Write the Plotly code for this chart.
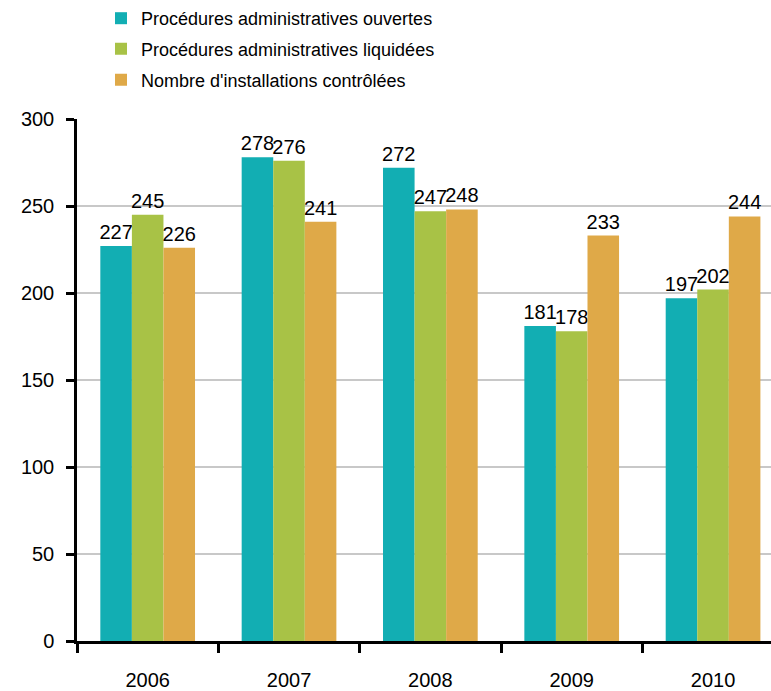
import plotly.graph_objects as go

years = ["2006", "2007", "2008", "2009", "2010"]
ouvertes = [227, 278, 272, 181, 197]
liquidees = [245, 276, 247, 178, 202]
controlees = [226, 241, 248, 233, 244]

names = ["Procédures administratives ouvertes",
         "Procédures administratives liquidées",
         "Nombre d'installations contrôlées"]
colors = ["#12AEB3", "#A8C246", "#DFA948"]
series = [ouvertes, liquidees, controlees]

FONT = "Liberation Sans, Arial, sans-serif"
fig = go.Figure()
for i, (n, c, v) in enumerate(zip(names, colors, series)):
    fig.add_trace(go.Bar(
        x=years, y=v, name=n, marker=dict(color=c, line=dict(width=0)),
        text=[str(t) for t in v], textposition="outside", constraintext="none",
        textfont=dict(size=20, color="black", family=FONT),
        cliponaxis=False, showlegend=True,
        legend="legend" if i == 0 else f"legend{i+1}",
    ))

leg = dict(font=dict(size=18, color="black", family=FONT), bgcolor="rgba(0,0,0,0)",
           xanchor="left", yanchor="middle", xref="paper", yref="paper",
           itemwidth=30, traceorder="normal", visible=True)
LX = (101 - 77) / 694
fig.update_layout(
    width=771, height=691,
    margin=dict(l=77, r=0, t=119, b=50),
    paper_bgcolor="white", plot_bgcolor="white",
    barmode="group", bargap=0.33, bargroupgap=0,
    font=dict(family=FONT, size=20, color="black"),
    showlegend=True,
    legend=dict(leg, x=LX, y=1 + (119 - 18) / 522),
    legend2=dict(leg, x=LX, y=1 + (119 - 49) / 522),
    legend3=dict(leg, x=LX, y=1 + (119 - 80) / 522),
)
fig.update_xaxes(
    type="category", range=[-0.5, 4.41],
    showline=True, linecolor="black", linewidth=2.5,
    ticks="outside", tickson="boundaries", ticklen=9, tickwidth=2.5, tickcolor="black",
    tickfont=dict(size=20, family=FONT, color="black"), ticklabelstandoff=19,
    showgrid=False, zeroline=False,
)
fig.update_yaxes(
    range=[0, 300], tickvals=[0, 50, 100, 150, 200, 250, 300],
    showline=True, linecolor="black", linewidth=2.5,
    ticks="outside", ticklen=8, tickwidth=2.5, tickcolor="black",
    tickfont=dict(size=20, family=FONT, color="black"), ticklabelstandoff=8,
    showgrid=True, gridcolor="#C8C8C8", gridwidth=1.5, zeroline=False,
)
fig.write_html("out.html")
